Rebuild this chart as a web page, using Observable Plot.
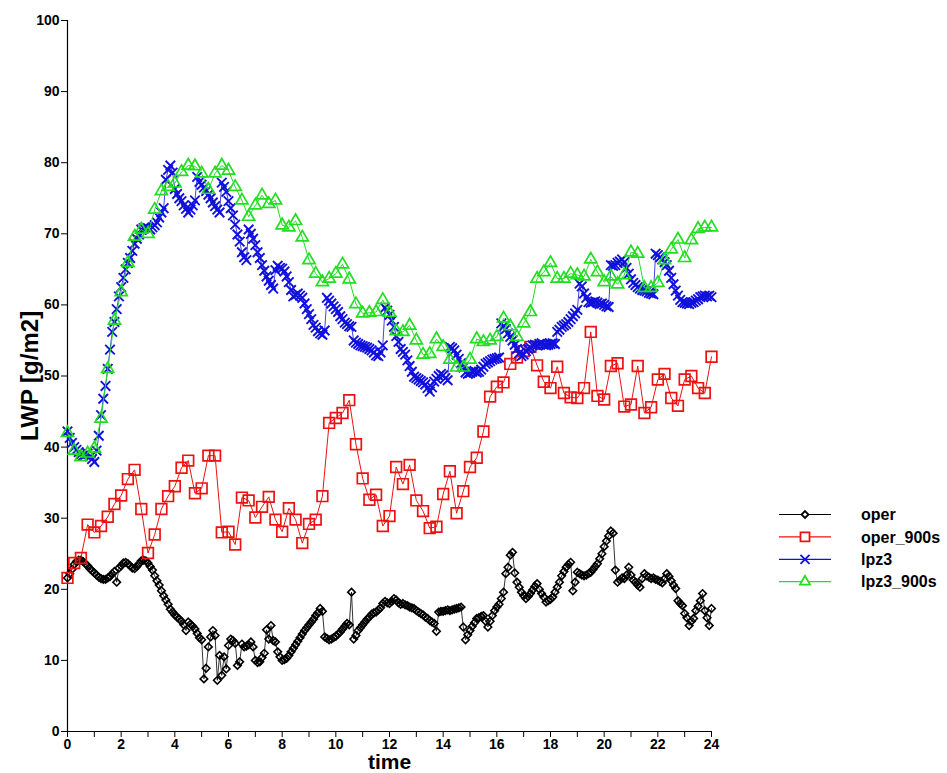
<!DOCTYPE html>
<html>
<head>
<meta charset="utf-8">
<script src="https://cdn.jsdelivr.net/npm/d3@7"></script>
<script src="https://cdn.jsdelivr.net/npm/@observablehq/plot@0.6"></script>
<style>
  html, body { margin: 0; padding: 0; background: white; }
  #wrap { position: relative; width: 947px; height: 773px; font-family: "Liberation Sans", Arial, Helvetica, sans-serif; }
  #legend { position: absolute; left: 770px; top: 500px; }
</style>
</head>
<body>
<div id="wrap"></div>
<script>
// ---- data (LWP in g/m2) ----
const seriesNames = ["oper", "oper_900s", "lpz3", "lpz3_900s"];
const xTickLabels = [0, 2, 4, 6, 8, 10, 12, 14, 16, 18, 20, 22, 24];
const xMinorTicks = [1, 3, 5, 7, 9, 11, 13, 15, 17, 19, 21, 23];
const yTickLabels = [0, 10, 20, 30, 40, 50, 60, 70, 80, 90, 100];

// 5-minute output (12 values per hour, 0..24 h)
const operValues = [
  21.6, 22.2, 22.8, 23.5, 23.9, 24.1, 24.1, 23.9, 23.6, 23.3, 22.9, 22.6,
  22.3, 22.0, 21.7, 21.5, 21.4, 21.4, 21.6, 21.8, 22.2, 22.5, 21.0, 23.0,
  23.3, 23.7, 23.8, 23.6, 23.3, 23.0, 22.9, 23.2, 23.6, 24.0, 24.1, 24.0,
  23.7, 23.2, 22.7, 21.9, 21.2, 20.6, 19.8, 19.1, 18.5, 17.9, 17.2, 16.8,
  16.4, 16.1, 15.8, 15.5, 15.0, 14.2, 15.4, 15.1, 14.8, 14.4, 13.8, 13.2,
  12.9, 7.4, 8.9, 11.9, 13.3, 14.2, 13.5, 7.2, 10.7, 7.9, 10.5, 8.8,
  12.1, 13.0, 12.8, 12.4, 9.3, 9.8, 12.3, 11.9, 12.0, 12.2, 12.6, 11.9,
  10.0, 9.7, 9.8, 10.4, 11.0, 14.3, 13.0, 14.9, 12.8, 12.6, 11.2, 10.5,
  10.0, 10.1, 10.3, 10.7, 11.2, 11.7, 12.2, 12.7, 13.2, 13.7, 14.2, 14.6,
  15.0, 15.4, 15.8, 16.3, 16.7, 17.3, 16.9, 13.3, 13.1, 12.9, 13.0, 13.2,
  13.4, 13.7, 14.0, 14.4, 14.8, 15.2, 15.0, 19.6, 13.0, 13.5, 14.2, 14.6,
  15.0, 15.4, 15.8, 16.1, 16.5, 16.7, 16.8, 17.1, 17.4, 18.0, 18.3, 18.1,
  18.0, 18.3, 18.7, 18.5, 18.1, 17.9, 18.0, 17.8, 17.7, 17.5, 17.4, 17.3,
  17.0, 16.8, 16.6, 16.4, 16.1, 15.9, 15.6, 15.4, 15.2, 14.1, 16.8, 16.9,
  16.9, 17.0, 17.1, 17.0, 17.1, 17.2, 17.3, 17.4, 17.5, 14.7, 12.9, 13.6,
  14.2, 14.8, 15.3, 15.9, 16.0, 16.2, 16.3, 15.5, 14.7, 15.5, 16.3, 17.0,
  17.5, 17.9, 18.7, 19.6, 22.2, 23.1, 24.8, 25.2, 22.3, 21.0, 20.3, 19.6,
  19.1, 18.7, 19.0, 19.4, 19.9, 20.4, 20.8, 20.0, 19.4, 18.9, 18.2, 18.4,
  18.6, 18.9, 19.6, 20.3, 21.0, 21.9, 22.5, 23.1, 23.5, 23.8, 19.8, 21.0,
  22.4, 22.2, 22.0, 21.9, 22.0, 22.2, 22.4, 22.8, 23.2, 23.6, 24.3, 25.0,
  26.0, 26.8, 27.5, 28.2, 27.9, 22.7, 21.0, 21.3, 21.6, 21.5, 22.0, 23.1,
  22.0, 21.3, 21.0, 20.6, 20.3, 21.5, 22.2, 21.9, 21.7, 21.5, 21.6, 21.4,
  21.3, 21.1, 20.9, 21.5, 22.2, 21.8, 21.2, 20.6, 20.1, 18.4, 18.0, 17.7,
  16.6, 16.0, 14.9, 15.5, 15.9, 17.0, 17.6, 18.4, 19.4, 17.0, 16.0, 14.9,
  17.3
];

const lpz3Values = [
  42.2, 41.3, 40.6, 40.0, 39.6, 39.3, 39.0, 38.8, 38.9, 39.1, 38.7, 38.3,
  37.9, 39.5, 41.6, 44.5, 46.8, 48.6, 51.0, 53.7, 56.2, 57.6, 59.4, 61.2,
  62.5, 63.8, 65.0, 65.9, 66.6, 67.6, 68.6, 69.3, 69.9, 70.6, 70.8, 70.9,
  70.8, 70.6, 70.9, 71.2, 71.6, 72.3, 73.0, 73.6, 77.6, 79.0, 79.6, 78.6,
  76.3, 75.6, 75.0, 74.6, 74.0, 73.5, 73.0, 73.4, 74.0, 74.7, 78.0, 77.3,
  76.9, 76.5, 76.0, 75.5, 75.0, 74.4, 73.9, 73.4, 73.0, 77.2, 76.6, 75.9,
  74.6, 73.6, 72.6, 71.3, 69.9, 68.9, 67.4, 66.7, 66.3, 70.6, 70.0, 69.3,
  68.4, 67.4, 66.6, 65.6, 64.8, 64.0, 63.4, 62.8, 62.3, 64.9, 65.5, 65.2,
  65.1, 64.7, 64.0, 63.2, 62.1, 61.2, 61.4, 61.6, 61.3, 61.0, 60.2, 59.4,
  58.7, 58.0, 57.2, 56.8, 56.3, 56.0, 55.8, 56.4, 61.0, 60.6, 60.2, 59.8,
  59.4, 59.0, 58.4, 58.0, 57.5, 57.3, 57.0, 56.9, 55.0, 54.7, 54.5, 54.3,
  54.2, 54.1, 54.0, 53.8, 53.6, 53.3, 52.9, 52.8, 53.3, 54.3, 59.6, 59.2,
  58.6, 57.8, 56.9, 55.6, 54.8, 53.8, 53.4, 53.0, 52.2, 51.4, 50.6, 49.9,
  49.7, 49.5, 49.3, 49.1, 48.8, 48.3, 47.8, 48.4, 49.2, 49.6, 50.0, 50.3,
  50.1, 49.7, 49.4, 54.1, 53.9, 53.6, 53.0, 52.4, 51.8, 51.2, 50.5, 50.3,
  50.4, 50.6, 50.7, 50.5, 50.6, 50.9, 51.3, 51.7, 51.9, 52.1, 52.3, 52.4,
  52.5, 52.6, 57.4, 57.0, 56.6, 56.0, 55.5, 55.0, 54.4, 53.8, 53.2, 52.8,
  53.0, 53.5, 53.8, 54.0, 54.3, 54.4, 54.3, 54.5, 54.6, 54.4, 54.3, 54.4,
  54.5, 54.6, 54.5, 56.2, 56.5, 56.9, 57.1, 57.3, 57.6, 58.0, 58.4, 58.8,
  59.3, 63.0, 62.6, 61.6, 61.0, 60.4, 60.3, 60.4, 60.5, 60.3, 60.1, 60.2,
  60.0, 59.8, 59.7, 65.6, 65.5, 65.6, 65.9, 66.1, 66.4, 66.0, 65.2, 64.4,
  63.6, 63.1, 62.8, 62.5, 62.3, 62.1, 62.0, 61.9, 61.7, 61.6, 61.5, 67.2,
  67.0, 66.7, 66.4, 66.0, 65.6, 64.8, 63.8, 62.9, 62.0, 61.3, 60.7, 60.4,
  60.3, 60.2, 60.1, 60.3, 60.4, 60.6, 60.8, 61.1, 61.2, 61.3, 61.2, 61.3,
  61.1
];

// 15-minute output (4 values per hour, 0..24 h)
const oper900Values = [
  21.6, 23.7, 24.4, 29.1, 28.0, 28.9, 30.2, 32.0, 33.2, 35.5, 36.8, 31.3,
  25.1, 27.7, 31.3, 33.1, 34.5, 37.1, 38.1, 33.5, 34.2, 38.8, 38.8, 28.0,
  28.1, 26.3, 32.9, 32.5, 30.1, 31.6, 33.0, 29.8, 28.1, 31.4, 29.8, 26.5,
  29.2, 29.8, 33.1, 43.4, 44.1, 44.8, 46.6, 40.4, 35.6, 32.6, 33.3, 28.9,
  30.3, 37.2, 34.8, 37.5, 32.5, 31.0, 28.6, 28.8, 33.4, 36.6, 30.7, 33.8,
  37.2, 38.5, 42.2, 47.1, 48.5, 49.1, 51.7, 52.6, 53.5, 54.1, 51.5, 49.2,
  48.3, 51.3, 47.6, 47.0, 46.9, 48.3, 56.2, 47.2, 46.7, 51.4, 51.8, 45.7,
  46.0, 51.4, 44.8, 45.6, 49.5, 50.3, 46.9, 45.8, 49.5, 50.0, 48.3, 47.6,
  52.7
];

const lpz3900Values = [
  42.0, 39.5, 38.6, 39.1, 39.8, 44.0, 51.0, 57.8, 61.8, 65.9, 69.6, 70.6,
  70.0, 73.4, 76.0, 76.6, 77.1, 78.7, 79.6, 79.5, 78.5, 76.2, 78.5, 79.6,
  78.9, 76.6, 74.7, 72.4, 74.0, 75.4, 74.2, 74.7, 71.2, 70.9, 71.8, 69.5,
  66.3, 64.4, 63.2, 63.7, 64.4, 65.7, 63.6, 60.1, 58.8, 58.9, 59.0, 60.7,
  58.9, 56.3, 56.2, 57.1, 55.0, 53.0, 53.1, 55.2, 54.1, 52.3, 51.2, 51.2,
  52.3, 55.2, 54.8, 55.0, 55.5, 58.1, 57.0, 55.5, 57.4, 59.0, 63.7, 64.6,
  65.9, 63.7, 63.7, 64.4, 64.2, 64.0, 66.4, 64.6, 63.2, 64.0, 62.9, 64.2,
  67.4, 67.2, 62.4, 62.4, 63.1, 66.3, 67.8, 69.2, 66.6, 69.1, 70.7, 70.9,
  70.9
];

// ---- build tables ----
const toRows = (vals, perHour) => vals.map((v, i) => ({t: i / perHour, v}));
const operData = toRows(operValues, 12);
const lpz3Data = toRows(lpz3Values, 12);
const oper900Data = toRows(oper900Values, 4);
const lpz3900Data = toRows(lpz3900Values, 4);

const colors = {oper: "#000000", oper_900s: "#ee1111", lpz3: "#1111dd", lpz3_900s: "#22dd22"};

const font = "'Liberation Sans', Arial, Helvetica, sans-serif";

const chart = Plot.plot({
  width: 947,
  height: 773,
  marginLeft: 67,
  marginRight: 236,
  marginTop: 20,
  marginBottom: 42,
  style: {fontFamily: font, fontWeight: "bold", background: "white", color: "black"},
  x: {domain: [0, 24]},
  y: {domain: [0, 100]},
  marks: [
    Plot.axisX({ticks: xTickLabels, tickSize: 6, tickPadding: 2, fontSize: 14, fontWeight: "bold", label: null}),
    Plot.axisX({ticks: xMinorTicks, tickSize: 6, text: null, label: null}),
    Plot.axisY({ticks: yTickLabels, tickSize: 6, tickPadding: 2, fontSize: 14, fontWeight: "bold", label: null}),
    Plot.ruleX([0], {stroke: "black", strokeWidth: 1.2}),
    Plot.ruleY([0], {stroke: "black", strokeWidth: 1.2}),

    Plot.line(operData, {x: "t", y: "v", stroke: colors.oper, strokeWidth: 0.8}),
    Plot.dot(operData, {x: "t", y: "v", symbol: "diamond2", r: 3.4, fill: "none", stroke: colors.oper, strokeWidth: 1.6}),

    Plot.line(oper900Data, {x: "t", y: "v", stroke: colors.oper_900s, strokeWidth: 1}),
    Plot.dot(oper900Data, {x: "t", y: "v", symbol: "square2", r: 6.8, fill: "none", stroke: colors.oper_900s, strokeWidth: 1.7}),

    Plot.line(lpz3Data, {x: "t", y: "v", stroke: colors.lpz3, strokeWidth: 0.8}),
    Plot.dot(lpz3Data, {x: "t", y: "v", symbol: "times", r: 4.4, fill: "none", stroke: colors.lpz3, strokeWidth: 1.9}),

    Plot.line(lpz3900Data, {x: "t", y: "v", stroke: colors.lpz3_900s, strokeWidth: 1}),
    Plot.dot(lpz3900Data, {x: "t", y: "v", symbol: "triangle2", r: 5.8, fill: "none", stroke: colors.lpz3_900s, strokeWidth: 1.7}),

    Plot.text(["LWP [g/m2]"], {frameAnchor: "left", dx: -37, rotate: -90, textAnchor: "middle", lineAnchor: "middle", fontSize: 24, fontWeight: "bold", fill: "black"}),
    Plot.text(["time"], {frameAnchor: "bottom", dy: 37, textAnchor: "middle", lineAnchor: "bottom", fontSize: 21, fontWeight: "bold", fill: "black"})
  ]
});

const wrap = document.getElementById("wrap");
wrap.appendChild(chart);

// ---- legend (overlay on the right) ----
const legendSymbols = {
  oper: {sym: d3.symbolDiamond2, size: 31},
  oper_900s: {sym: d3.symbolSquare2, size: 104},
  lpz3: {sym: d3.symbolTimes, size: 55},
  lpz3_900s: {sym: d3.symbolTriangle2, size: 72}
};
const lg = d3.select(wrap).append("svg")
  .attr("id", "legend")
  .attr("width", 177)
  .attr("height", 100);
seriesNames.forEach((name, i) => {
  const y = 14.5 + i * 22.4;
  const g = lg.append("g");
  g.append("line").attr("x1", 9).attr("x2", 61).attr("y1", y).attr("y2", y)
    .attr("stroke", colors[name]).attr("stroke-width", 1.2);
  g.append("path")
    .attr("d", d3.symbol(legendSymbols[name].sym, legendSymbols[name].size)())
    .attr("transform", `translate(35,${y})`)
    .attr("fill", "white").attr("stroke", colors[name]).attr("stroke-width", 1.8);
  g.append("text").attr("x", 91).attr("y", y).attr("dy", "0.36em")
    .attr("font-family", font).attr("font-weight", "bold").attr("font-size", 16)
    .attr("fill", "black").text(name);
});
</script>
</body>
</html>
